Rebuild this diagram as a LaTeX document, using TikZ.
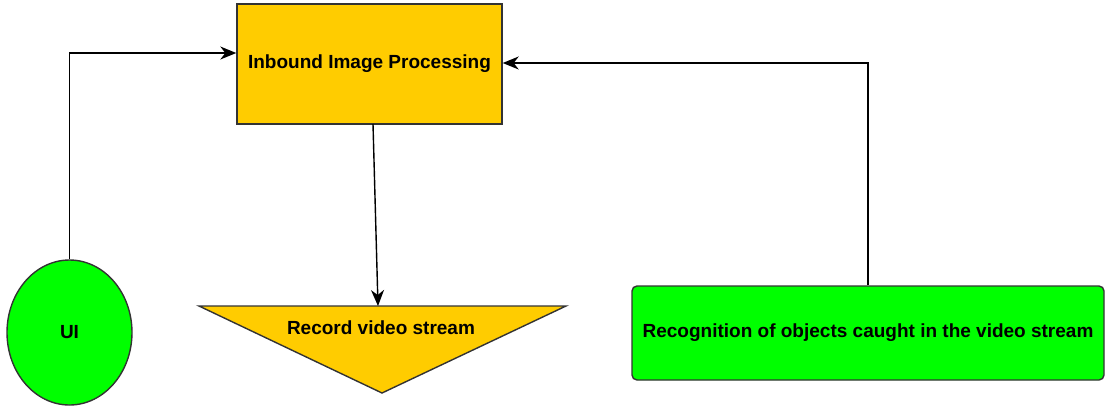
\documentclass[tikz,border=0pt]{standalone}
\usepackage{fontspec}
\setmainfont{Liberation Sans}
\usetikzlibrary{arrows.meta,shapes.geometric}
\definecolor{boxorange}{HTML}{FFCC00}
\definecolor{boxgreen}{HTML}{00FF00}
\definecolor{edge}{HTML}{333333}
\begin{document}
\begin{tikzpicture}[x=1pt,y=-1pt,
  lbl/.style={font=\fontsize{19}{22}\selectfont\bfseries, text=black},
  conn/.style={draw=black, line width=1.4pt, -{Stealth[length=16pt,width=13pt,inset=5pt]}},
  shape border/.style={draw=edge, line width=1.4pt}]
\useasboundingbox (0,0) rectangle (1110,408);
% Inbound box
\node[shape border, fill=boxorange, rectangle, minimum width=265pt, minimum height=120pt, inner sep=0pt, lbl] (inbound) at (369.5,64) {Inbound Image Processing};
% UI ellipse
\node[shape border, fill=boxgreen, ellipse, minimum width=125pt, minimum height=145pt, inner sep=0pt, lbl] (ui) at (69.5,332.5) {UI};
% Recognition box
\node[shape border, fill=boxgreen, rectangle, rounded corners=5pt, minimum width=472pt, minimum height=94pt, inner sep=0pt, lbl] (recog) at (868,333) {Recognition of objects caught in the video stream};
% Record triangle
\coordinate (triL) at (199,306);
\coordinate (triR) at (566,306);
\coordinate (triA) at (382,393);
\coordinate (tritop) at (378,306);
\draw[shape border, fill=boxorange, line join=miter] (triL) -- (triR) -- (triA) -- cycle;
\node[lbl] (record) at (381,328) {Record video stream};
% connectors
\coordinate (inbL) at (inbound.west |- 0,53);
\coordinate (inbR) at (inbound.east |- 0,63);
\coordinate (inbB) at (373,124);
\draw[conn] (ui.north) |- (inbL);
\draw[conn] (recog.north) |- (inbR);
\draw[conn] (inbB) -- (tritop);
\end{tikzpicture}
\end{document}
